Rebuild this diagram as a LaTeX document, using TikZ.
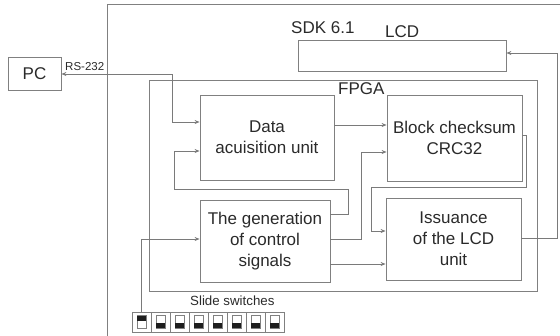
\documentclass[tikz,border=0pt]{standalone}
\usepackage{fontspec}
\setmainfont{Liberation Sans}
\usetikzlibrary{arrows.meta}
\definecolor{linegray}{HTML}{7A7A7A}
\definecolor{boxgray}{HTML}{808080}
\definecolor{txt}{HTML}{2A2A2A}
\definecolor{knob}{HTML}{1E1E1E}
\begin{document}
\begin{tikzpicture}[x=1pt,y=-1pt,
  wire/.style={draw=linegray,line width=0.8pt},
  arr/.style={wire,-{Stealth[length=5pt,width=4pt]}},
  twoway/.style={wire,{Stealth[length=5pt,width=4pt]}-{Stealth[length=5pt,width=4pt]}},
  unit/.style={draw=boxgray,line width=0.8pt,text=txt,align=center,inner sep=0pt,
    font=\fontsize{17}{21}\selectfont},
  frame/.style={draw=boxgray,line width=0.9pt},
  label/.style={text=txt,inner sep=0pt,font=\fontsize{17}{21}\selectfont},
  swcell/.style={draw=boxgray,line width=0.7pt,minimum width=19pt,minimum height=20pt,inner sep=0pt}
]
\useasboundingbox (0,0) rectangle (560,335);
\clip (0,0) rectangle (560,335);

% board and FPGA frames
\draw[frame] (107,4) rectangle (620,400);
\draw[frame] (149,80) rectangle (537,291);
\node[label,anchor=base west] (sdk) at (291,33) {SDK 6.1};
\node[label,anchor=base west] (lcdlbl) at (385,37) {LCD};
\node[label,anchor=base west] (fpga) at (338,94) {FPGA};

% units
\node[unit,minimum width=53pt,minimum height=33pt] (pc) at (34.5,73.5) {PC};
\node[unit,minimum width=208pt,minimum height=31pt] (lcd) at (402,55.5) {};
\node[unit,minimum width=134pt,minimum height=85pt] (data) at (267,137.5) {Data\\acuisition unit};
\node[unit,minimum width=135pt,minimum height=86pt] (crc) at (454.5,138) {Block checksum\\CRC32};
\node[unit,minimum width=130pt,minimum height=82pt] (gen) at (265,241) {The generation\\of control\\signals};
\node[unit,minimum width=135pt,minimum height=82pt] (iss) at (453.5,239) {Issuance\\of the LCD\\unit};

% slide switches
\node[text=txt,inner sep=0pt,anchor=base west,font=\fontsize{13.3}{15}\selectfont] (swlbl) at (190,305) {Slide switches};
\foreach \i in {1,...,8}{
  \pgfmathsetmacro{\cx}{132+19*(\i-1)+9.5}
  \node[swcell] (sw\i) at (\cx,322) {};
  \draw[draw=boxgray,line width=0.6pt] (\cx-4.5,315) rectangle (\cx+4.5,328);
}
\fill[knob] (137,315.5) rectangle (146,321);
\foreach \i in {2,...,8}{
  \pgfmathsetmacro{\cx}{132+19*(\i-1)+9.5}
  \fill[knob] (\cx-4.5,322.5) rectangle (\cx+4.5,327.5);
}

% RS-232 link
\node[text=txt,inner sep=0pt,anchor=base west,font=\fontsize{11.5}{13}\selectfont] (rs) at (65,70) {RS-232};
\draw[twoway] (pc.east |- 0,74) -- (172,74) -- (172,122) -- (data.west |- 0,122);

% internal connections
\draw[arr] (data.east |- 0,125) -- (crc.west |- 0,125);
\draw[arr] (gen.east |- 0,214) -- (348,214) -- (348,189) -- (174,189) -- (174,151) -- (data.west |- 0,151);
\draw[arr] (gen.east |- 0,239) -- (361,239) -- (361,152) -- (crc.west |- 0,152);
\draw[arr] (crc.east |- 0,135) -- (526,135) -- (526,187) -- (371,187) -- (371,231) -- (iss.west |- 0,231);
\draw[arr] (gen.east |- 0,264) -- (iss.west |- 0,264);
\draw[arr] (iss.east |- 0,238) -- (557,238) -- (557,53) -- (lcd.east |- 0,53);
\draw[arr] (sw1.north) -- (sw1.north |- 0,239) -- (gen.west |- 0,239);
\end{tikzpicture}
\end{document}
